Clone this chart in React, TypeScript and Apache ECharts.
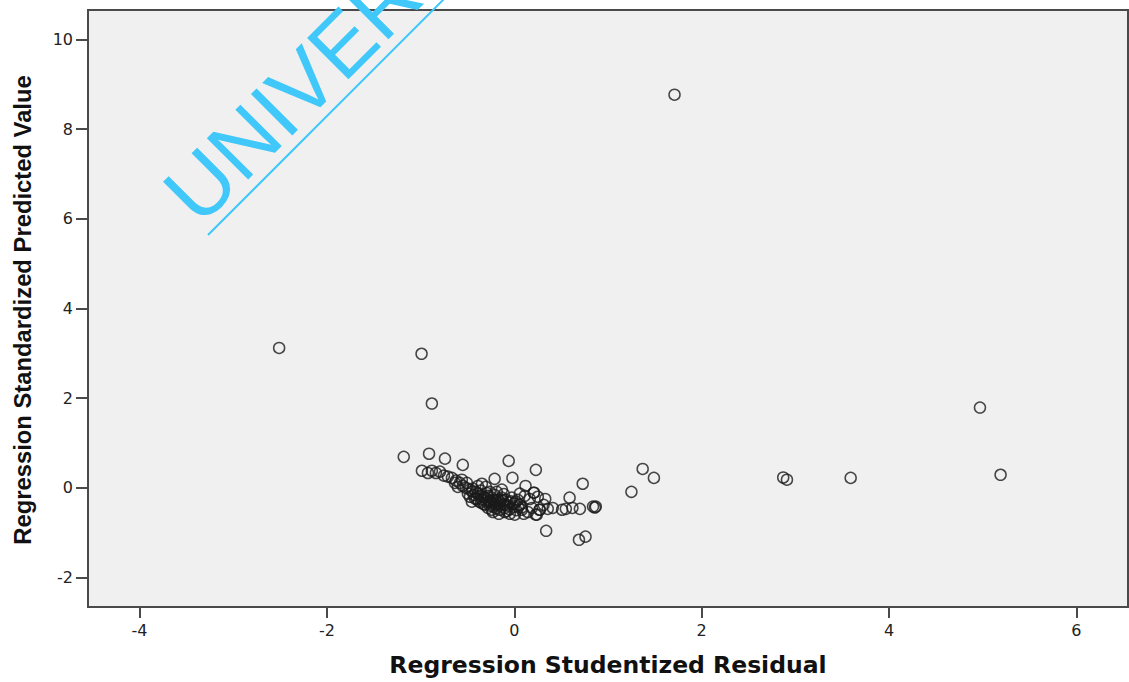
import React, { useEffect, useRef } from "react";
import * as echarts from "echarts";

// Regression Studentized Residual (x) and Regression Standardized Predicted Value (y)
const residual: number[] = [
  1.71, -2.51, -0.99, -0.88, 4.97, 5.19, 3.59, 2.87, 2.91, 1.37, 1.49, 1.25, 0.34, 0.69, 0.76, 0.73,
  -1.18, -0.91, -0.74, -0.55, -0.06, 0.23, -0.21, -0.02, 0.12,
  0.59, 0.41, 0.51, 0.62, 0.70, 0.84, 0.87, 0.86, 0.33, 0.21, 0.24, 0.27, 0.55,
  -0.986, -0.922, -0.88, -0.837, -0.794, -0.751, -0.709, -0.666, -0.623, -0.581, -0.549, -0.517,
  -0.474, -0.442, -0.41, -0.389, -0.357, -0.325, -0.293, -0.261, -0.24, -0.219, -0.197, -0.176,
  -0.155, -0.133, -0.112, -0.091, -0.07, -0.048, -0.027, -0.005, 0.016, 0.037, 0.059, 0.08,
  0.101, 0.144, 0.187, 0.229, 0.272, 0.314, 0.357, -0.314, -0.282, -0.24, -0.357, -0.4,
  -0.432, -0.474, -0.155, -0.101, -0.048, 0.005, -0.187, -0.133, -0.261, -0.304, -0.346, -0.389,
  -0.506, -0.56, -0.634, -0.602, -0.496, -0.453, 0.059, 0.112, 0.165, 0.208, 0.251, -0.229, -0.165,
  -0.3, -0.25, -0.2, -0.15, -0.1, -0.35, -0.28, -0.22, -0.12, -0.05, 0.02, 0.08,
  -0.32, -0.27, -0.23, -0.18, -0.14, -0.09, -0.04, -0.33, -0.26, -0.19, -0.08, 0.0, 0.04,
  -0.38, -0.42, -0.45, -0.36, -0.29, -0.21, -0.11,
];
const predicted: number[] = [
  8.77, 3.12, 2.99, 1.88, 1.79, 0.29, 0.22, 0.23, 0.18, 0.42, 0.22, -0.09, -0.96, -1.16, -1.09, 0.09,
  0.69, 0.76, 0.65, 0.51, 0.6, 0.4, 0.2, 0.22, 0.04,
  -0.22, -0.45, -0.49, -0.45, -0.47, -0.42, -0.42, -0.44, -0.25, -0.11, -0.6, -0.49, -0.47,
  0.38, 0.33, 0.38, 0.33, 0.36, 0.27, 0.25, 0.22, 0.16, 0.11, 0.04, 0.0,
  -0.04, -0.02, -0.09, -0.13, -0.18, -0.2, -0.25, -0.29, -0.22, -0.33, -0.38, -0.27,
  -0.31, -0.22, -0.36, -0.27, -0.4, -0.33, -0.22, -0.42, -0.31, -0.27, -0.38, -0.49,
  -0.58, -0.54, -0.45, -0.6, -0.49, -0.38, -0.47, -0.38, -0.45, -0.49, -0.33, -0.25,
  -0.16, -0.2, -0.49, -0.54, -0.58, -0.6, -0.09, -0.04, -0.09, 0.02, 0.09, 0.04,
  0.11, 0.18, 0.11, 0.02, -0.13, -0.31, -0.13, -0.18, -0.25, -0.11, -0.2, -0.54, -0.58,
  -0.3, -0.35, -0.28, -0.4, -0.45, -0.26, -0.18, -0.42, -0.3, -0.48, -0.5, -0.44,
  -0.22, -0.32, -0.27, -0.34, -0.26, -0.38, -0.3, -0.36, -0.4, -0.46, -0.52, -0.35, -0.42,
  -0.3, -0.24, -0.08, -0.06, -0.12, -0.16, -0.14,
];

const xTicks: number[] = [-4, -2, 0, 2, 4, 6];
const yTicks: number[] = [-2, 0, 2, 4, 6, 8, 10];

const xTitle = "Regression Studentized Residual";
const yTitle = "Regression Standardized Predicted Value";
const watermark = "UNIVERSITI";

export default function App() {
  const ref = useRef<HTMLDivElement>(null);
  useEffect(() => {
    if (!ref.current) return;
    const chart = echarts.init(ref.current, undefined, { renderer: "svg" });
    const points = residual.map((x, i) => [x, predicted[i]]);
    const axisColor = "#4a4a4a";
    const labelStyle = { fontSize: 16, color: "#222", fontFamily: "'DejaVu Sans', sans-serif" };
    chart.setOption({
      animation: false,
      backgroundColor: "#ffffff",
      grid: {
        show: true,
        left: 88,
        top: 10,
        right: 1,
        bottom: 75,
        backgroundColor: "#F0F0F0",
        borderColor: axisColor,
        borderWidth: 2,
      },
      xAxis: {
        type: "value",
        min: -4.55,
        max: 6.55,
        splitLine: { show: false },
        axisLine: { show: true, onZero: false, lineStyle: { color: axisColor, width: 2 } },
        axisTick: { show: true, length: 11, lineStyle: { color: axisColor, width: 2 }, customValues: xTicks },
        axisLabel: { ...labelStyle, margin: 15, customValues: xTicks },
      },
      yAxis: {
        type: "value",
        min: -2.66,
        max: 10.66,
        splitLine: { show: false },
        axisLine: { show: true, onZero: false, lineStyle: { color: axisColor, width: 2 } },
        axisTick: { show: true, length: 12, lineStyle: { color: axisColor, width: 2 }, customValues: yTicks },
        axisLabel: { ...labelStyle, margin: 15, customValues: yTicks },
      },
      series: [
        {
          type: "scatter",
          data: points,
          symbol: "circle",
          symbolSize: 11,
          itemStyle: { color: "rgba(0,0,0,0)", borderColor: "#1a1a1a", borderWidth: 1.5 },
        },
      ],
      graphic: [
        {
          type: "text",
          x: 608,
          y: 665,
          style: {
            text: xTitle,
            fill: "#111",
            font: "bold 23.5px 'DejaVu Sans', sans-serif",
            align: "center",
            verticalAlign: "middle",
          },
        },
        {
          type: "text",
          x: 22,
          y: 310,
          rotation: Math.PI / 2,
          style: {
            text: yTitle,
            fill: "#111",
            font: "bold 23.8px 'Liberation Sans', Arial, sans-serif",
            align: "center",
            verticalAlign: "middle",
          },
        },
        {
          type: "text",
          x: 179,
          y: 207,
          rotation: Math.PI / 4,
          z: 100,
          style: {
            text: watermark,
            fill: "#40C8FA",
            font: "85px 'Liberation Sans', Arial, sans-serif",
            align: "left",
            verticalAlign: "middle",
          },
        },
        {
          type: "line",
          z: 100,
          shape: { x1: 208, y1: 235, x2: 452, y2: -9 },
          style: { stroke: "#40C8FA", lineWidth: 2 },
        },
      ],
    });
    return () => chart.dispose();
  }, []);
  return (
    <div
      ref={ref}
      style={{ position: "fixed", left: 0, top: 0, width: 1129, height: 682 }}
    />
  );
}
